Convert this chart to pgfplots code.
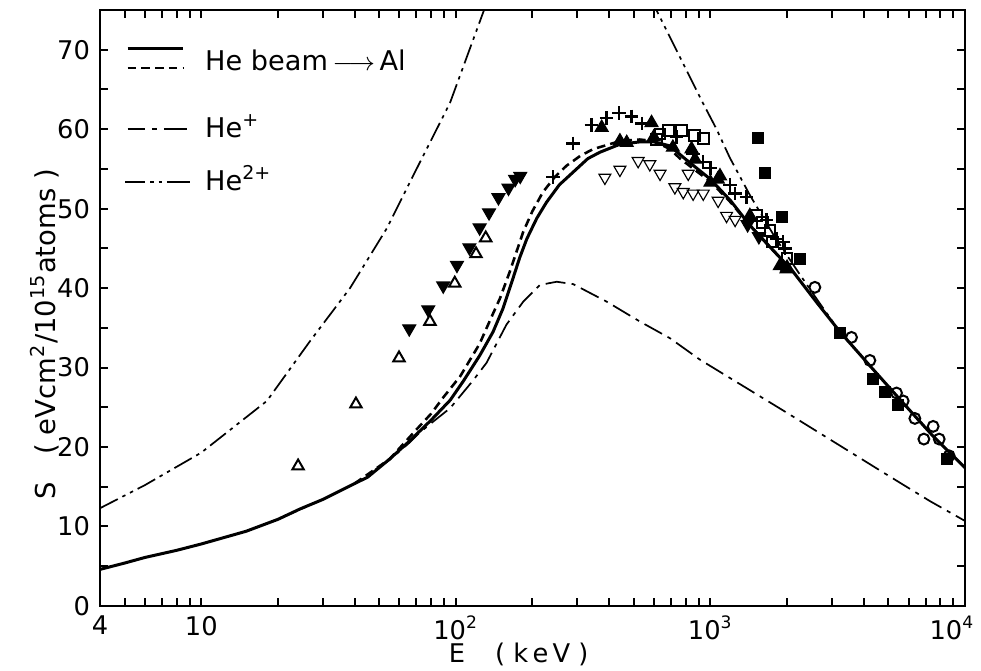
\documentclass[border=0pt]{standalone}
\usepackage{pgfplots}
\pgfplotsset{compat=1.18}
\usepackage{amsmath}
\usepackage{fontspec}
\setmainfont{DejaVu Sans}

\tikzset{
  heplus/.style={line width=0.6pt, dash pattern=on 7pt off 2.2pt on 1.4pt off 2.2pt},
  hetwo/.style={line width=0.6pt, dash pattern=on 7pt off 1.8pt on 1.2pt off 1.8pt on 1.2pt off 1.8pt},
  openmk/.style={black, mark options={solid, line width=0.7pt, fill=white}},
}

\begin{document}
\begin{tikzpicture}[font=\fontsize{9}{11}\selectfont]
\begin{axis}[
    scale only axis,
    width=302.75pt, height=208.6pt,
    xmode=log,
    xmin=4, xmax=10000, ymin=0, ymax=75,
    xtick={4,10,100,1000,10000},
    xticklabels={4,10,10\textsuperscript{2},10\textsuperscript{3},\hspace*{-9pt}10\textsuperscript{4}},
    minor xtick={5,6,7,8,9,20,30,40,50,60,70,80,90,200,300,400,500,600,700,800,900,2000,3000,4000,5000,6000,7000,8000,9000},
    ytick={0,10,...,70},
    minor ytick={5,15,...,75},
    tick align=inside,
    major tick length=2.8pt, minor tick length=2.8pt,
    every tick/.style={black, line width=0.7pt},
    axis line style={line width=0.9pt},
    /pgf/number format/assume math mode=true,
    xlabel={E\quad\,( k\,e\,V )},
    ylabel={S\quad( eVcm\textsuperscript{2}/10\textsuperscript{15}atoms )},
    xlabel style={at={(rel axis cs:0.484,-0.082)}, anchor=center},
    ylabel style={at={(rel axis cs:-0.064,0.456)}, anchor=center, rotate=0, font=\fontsize{9.6}{11}\selectfont},
]

% He2+ (upper dash-dot-dot), clipped at the top
\addplot[hetwo] table {
4 12.3
6 15.2
10 19.3
18.1 25.8
26.7 33.3
38.4 40.0
53.5 47.5
70.1 55.0
94.8 63.3
127.7 74.6
150 80.7
220 92
300 96
420 90
520 79.6
622 74.6
652 73.3
780 68.3
934 63.3
1057 60.0
1192 56.4
1429 51.7
1800 46.3
2246 41.7
2700 38.0
3227 34.5
4348 29.8
5548 26.0
7477 21.4
10000 17.4
};

% He+ (lower dash-dot)
\addplot[heplus] table {
20 10.9
30 13.4
40 15.4
55 18.4
66 20.6
72 21.8
80 23.0
95 24.9
117 28.4
132 30.6
158 35.4
184 38.3
214 40.4
249 40.8
289 40.5
391 38.3
528 35.8
693 33.7
909 31.0
2000 24.3
5000 16.4
7278 13.2
10000 10.7
};

% He beam -> Al, dashed
\addplot[black, line width=0.9pt, dash pattern=on 3pt off 1.8pt] table {
40 15.4
55 18.5
70 22.2
80 24.2
89 26.2
104 28.9
124 33.0
140 36.8
149 38.7
163 42.1
184 47.1
200 49.7
220 52.1
245 54.0
272 55.4
310 56.7
347 57.5
441 58.5
528 58.7
600 58.5
693 57.5
760 56.3
900 54.5
1000 53.4
1200 50.8
1429 47.9
1700 45.3
2108 42.1
};

% He beam -> Al, solid
\addplot[black, line width=1.05pt] table {
4 4.6
5 5.4
6 6.1
8 7.0
10 7.8
15 9.4
20 10.9
24.4 12.2
30 13.4
40 15.4
45 16.2
55 18.5
66 20.8
80 23.4
95 25.9
107 28.3
124 31.5
140 34.5
153 37.4
166 40.8
178 43.8
190 46.2
208 48.8
227 50.8
255 53.0
289 54.6
330 56.3
368 57.1
441 58.1
528 58.4
600 58.4
693 57.9
800 56.2
1000 53.7
1200 51.0
1429 47.9
1700 45.3
2108 42.1
2600 38.3
3227 34.5
4348 29.8
5548 26.0
7477 21.4
10000 17.4
};

% open up-triangles
\addplot[openmk, only marks, mark=triangle, mark size=2.3pt] table {
24.0 17.6
40.5 25.4
59.8 31.2
79.1 35.8
99 40.6
120 44.3
131 46.3
};

% filled down-triangles
\addplot[black, only marks, mark=triangle*, mark size=2.6pt, mark options={rotate=180}] table {
65.6 34.9
77.9 37.3
89.2 40.3
101 42.9
113 45.1
124 47.6
135 49.5
147 51.4
161 52.6
171 53.7
179 54.1
1400 48.0
1550 46.5
};

% open down-triangles
\addplot[openmk, only marks, mark=triangle, mark size=2.4pt, mark options={rotate=180}] table {
385 53.9
441 54.9
520 56.0
578 55.6
634 54.4
725 52.7
782 52.1
818 54.4
855 51.9
937 51.9
1072 51.0
1157 49.1
1250 48.6
};

% open squares
\addplot[openmk, only marks, mark=square, mark size=1.9pt] table {
614 58.7
634 59.4
683 59.8
771 59.8
869 59.2
937 58.8
1517 49.1
1600 48.3
1713 47.3
1759 45.8
2000 43.7
};

% plus
\addplot[black, only marks, mark=+, mark size=2.4pt, mark options={line width=0.8pt}] table {
241 54.0
289 58.2
341 60.5
391 61.4
437 62.0
490 61.6
537 60.7
736 59.0
853 56.9
934 55.9
1000 55.1
1195 53.0
1248 51.9
1387 51.5
1662 48.6
1819 46.2
1926 45.8
1960 45.0
};

% filled up-triangles
\addplot[black, only marks, mark=triangle*, mark size=2.6pt] table {
374 60.2
441 58.5
469 58.3
587 60.8
599 59.0
712 57.7
843 57.5
870 56.2
1000 53.3
1069 53.7
1090 54.1
1429 49.1
1874 42.8
1991 42.4
2000 42.6
};

% filled squares
\addplot[black, only marks, mark=square*, mark size=1.9pt] table {
1542 58.9
1637 54.5
1903 48.9
2246 43.7
3227 34.4
4359 28.5
4845 26.9
5464 25.3
8467 18.5
};

% open circles
\addplot[openmk, only marks, mark=o, mark size=1.9pt] table {
2572 40.1
3583 33.8
4230 30.9
5383 26.8
5718 25.8
6353 23.6
6893 21.0
7499 22.6
7920 21.0
8664 18.9
};

% legend
\draw[black, line width=1.05pt] (rel axis cs:0.032,0.936) -- (rel axis cs:0.096,0.936);
\draw[black, line width=0.9pt, dash pattern=on 3pt off 1.8pt] (rel axis cs:0.032,0.903) -- (rel axis cs:0.096,0.903);
\node[anchor=west, font=\fontsize{9.5}{11}\selectfont] at (rel axis cs:0.11,0.916) {He beam\,$\longrightarrow$\,Al};
\draw[black, line width=0.6pt, dash pattern=on 6pt off 2.5pt on 1.7pt off 2.5pt on 8pt] (rel axis cs:0.032,0.800) -- (rel axis cs:0.104,0.800);
\node[anchor=west, font=\fontsize{9.5}{11}\selectfont] at (rel axis cs:0.11,0.805) {He\textsuperscript{+}};
\draw[black, line width=0.6pt, dash pattern=on 7pt off 1.75pt on 1.2pt off 1.75pt on 1.2pt off 1.75pt on 8pt] (rel axis cs:0.029,0.711) -- (rel axis cs:0.104,0.711);
\node[anchor=west, font=\fontsize{9.5}{11}\selectfont] at (rel axis cs:0.11,0.718) {He\textsuperscript{2+}};
\end{axis}
\pgfresetboundingbox
\path[use as bounding box] (current axis.south west) ++(-35pt,-22.75pt) rectangle ([shift={(5.6pt,3.5pt)}]current axis.north east);
\end{tikzpicture}
\end{document}
